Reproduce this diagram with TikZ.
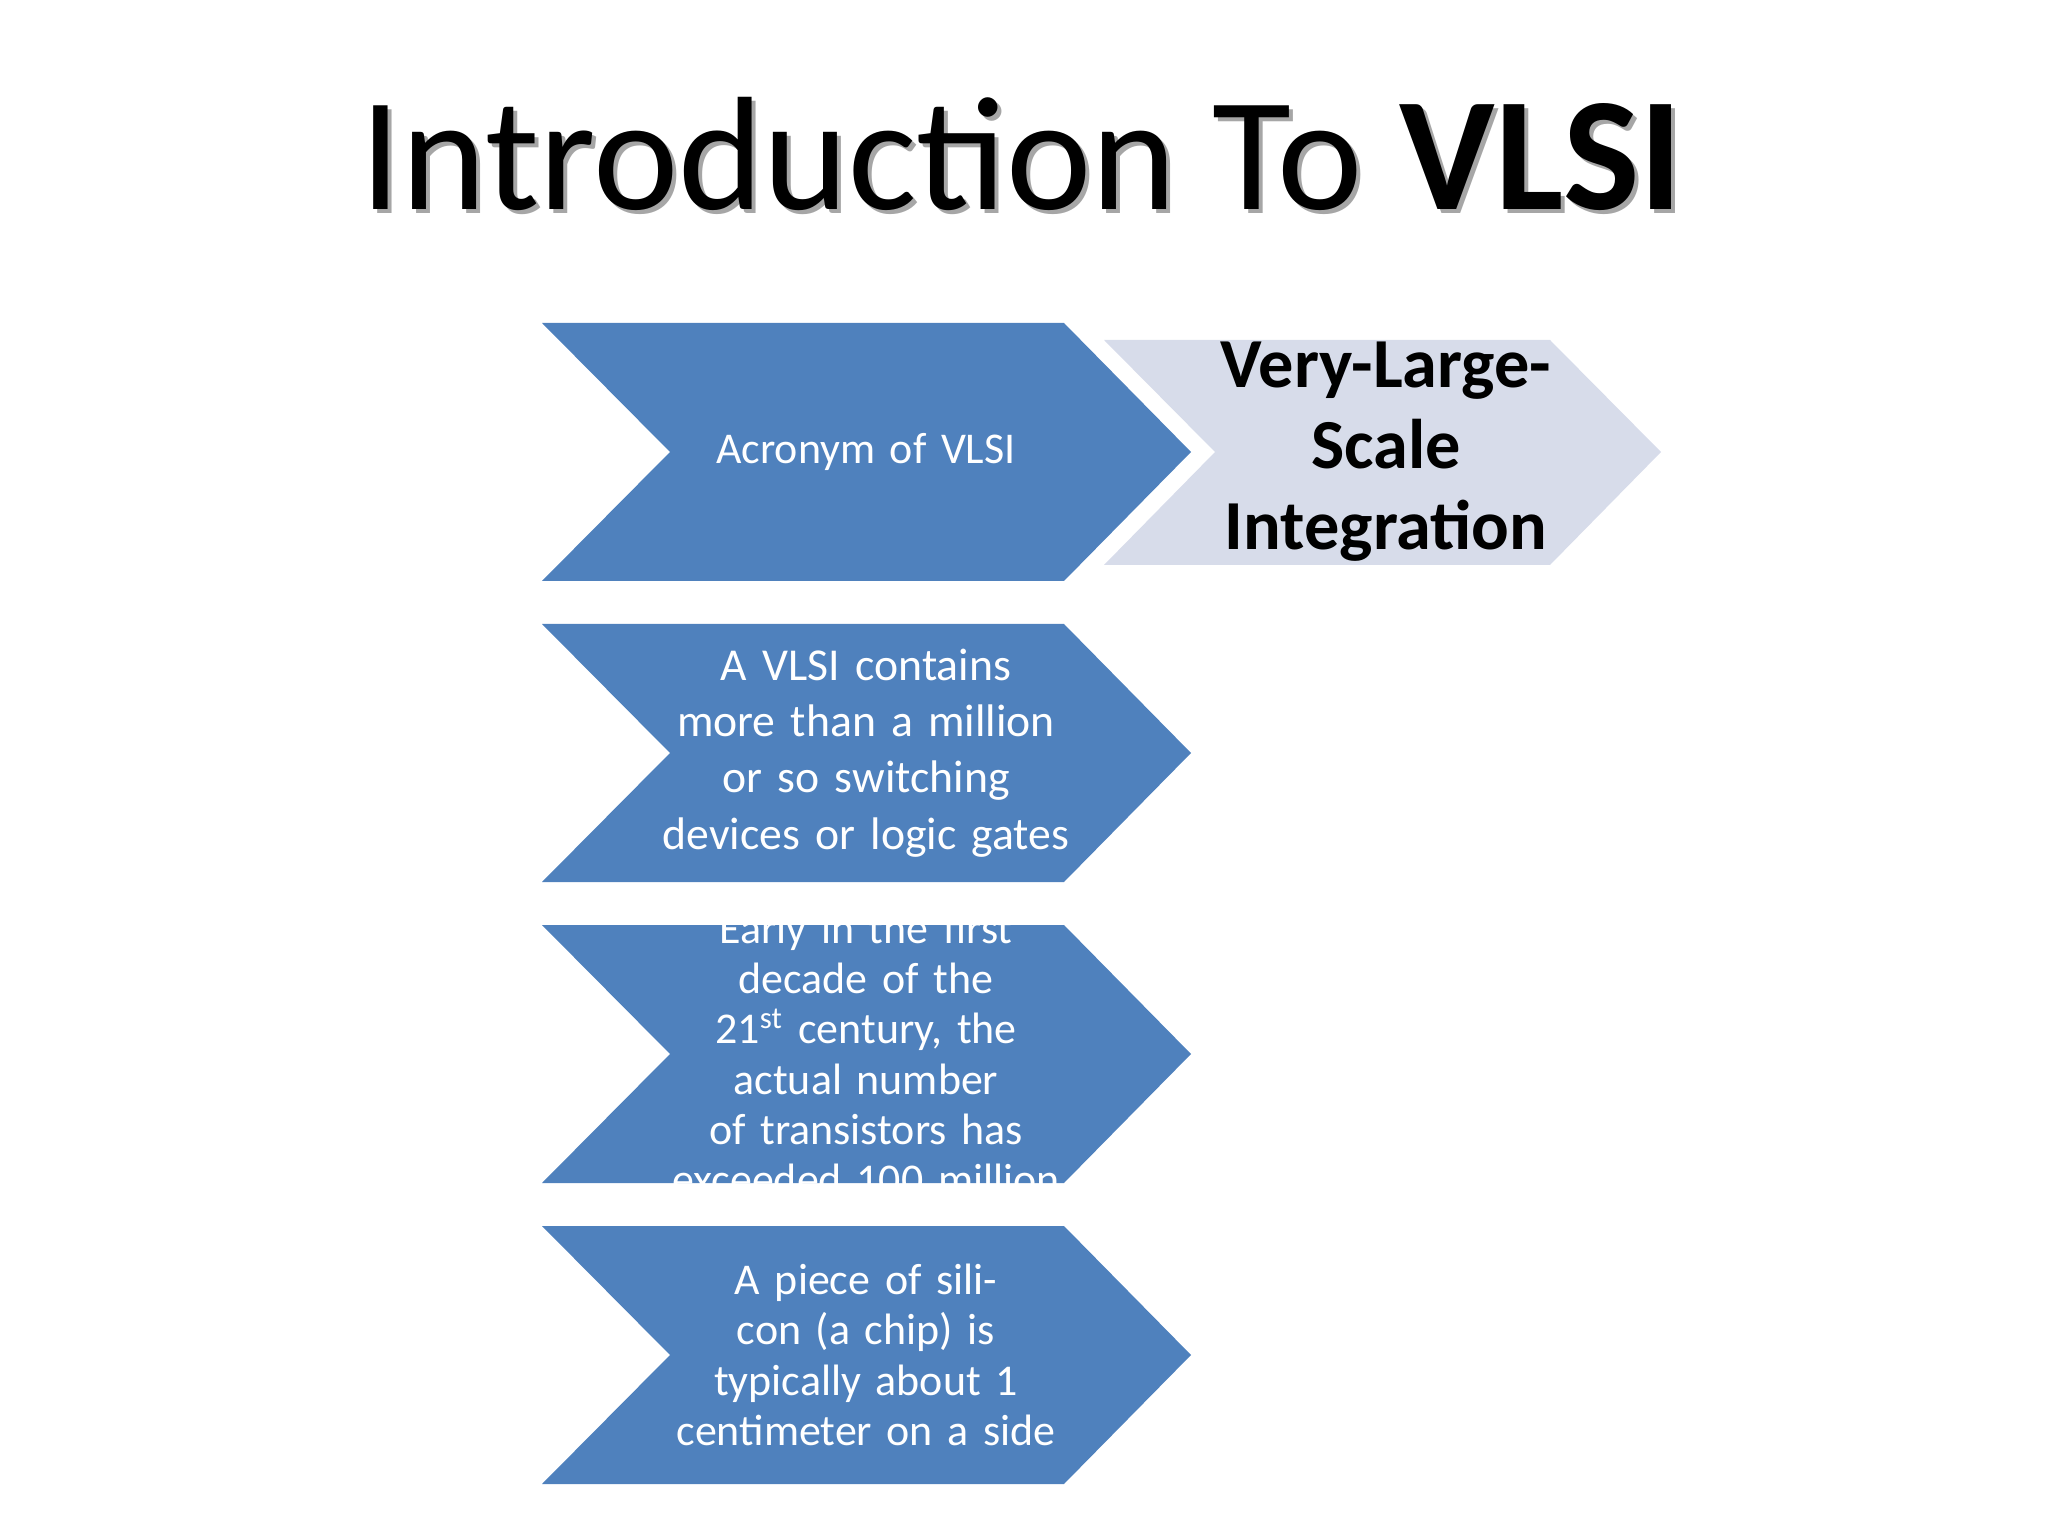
\documentclass[tikz,border=0pt]{standalone}
\usepackage{fontspec}
\setmainfont{Carlito}
\begin{document}
\begin{tikzpicture}[x=1cm,y=1cm,
  chev/.style={fill=blue!40!cyan!30!black!0, fill={rgb,255:red,79;green,129;blue,189}},
  lchev/.style={fill={rgb,255:red,215;green,220;blue,234}},
  ctext/.style={text=white,align=center,text width=4.1cm,font=\fontsize{12.5}{14.5}\selectfont}]
\useasboundingbox (0,0) rectangle (20.48,-15.36);
% title
\node[text=black!35,font=\fontsize{46}{50}\selectfont] (tshadow) at (10.26,-1.58) {Introduction To \textbf{VLSI}};
\node[font=\fontsize{46}{50}\selectfont] (title) at (10.22,-1.54) {Introduction To \textbf{VLSI}};
% light chevron
\fill[lchev] (11.04,-3.40) -- (15.50,-3.40) -- (16.61,-4.52) -- (15.50,-5.65) -- (11.04,-5.65) -- (12.15,-4.52) -- cycle;
\node[font=\bfseries\fontsize{20}{23}\selectfont,align=center] (vl) at (13.86,-4.52) {Very-Large-\\Scale\\Integration};
% blue chevrons
\foreach \t/\n in {3.23/a,6.24/b,9.25/c,12.26/d}{
  \fill[chev] (5.42,-\t) -- (10.64,-\t) -- (11.91,-\t-1.29) -- (10.64,-\t-2.58) -- (5.42,-\t-2.58) -- (6.70,-\t-1.29) -- cycle;
}
\node[ctext] (ta) at (8.66,-4.52) {Acronym of VLSI};
\node[ctext,font=\fontsize{13}{16}\selectfont] (tb) at (8.66,-7.53) {A VLSI contains more than a million or so switching devices or logic gates};
\node[ctext,font=\fontsize{12.5}{14.3}\selectfont] (tc) at (8.66,-10.54) {Early in the first decade of the 21\textsuperscript{st} century, the actual number of transistors has exceeded 100 million};
\node[ctext,font=\fontsize{12.5}{14.3}\selectfont] (td) at (8.66,-13.55) {A piece of silicon (a chip) is typically about 1 centimeter on a side};
\end{tikzpicture}
\end{document}
